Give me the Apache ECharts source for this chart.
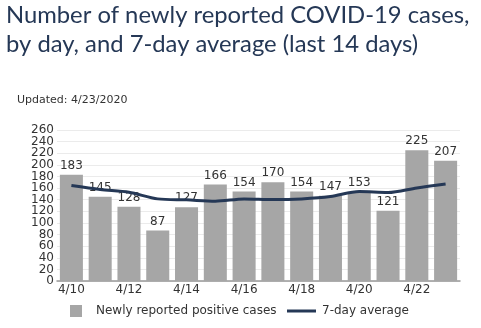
<!DOCTYPE html>
<html><head><meta charset="utf-8">
<script src="https://cdn.jsdelivr.net/npm/echarts@6/dist/echarts.min.js"></script>
<style>html,body{margin:0;padding:0;background:#fff}#c{width:481px;height:328px}</style>
</head><body><div id="c"></div>
<script>
const categories = ['4/10','4/11','4/12','4/13','4/14','4/15','4/16','4/17','4/18','4/19','4/20','4/21','4/22','4/23'];
const newCases = [183,145,128,87,127,166,154,170,154,147,153,121,225,207];
const avg7 = [164.3,157.5,152.8,141.4,139.7,137.5,141.4,140.2,141.4,145.4,154,152.3,160.3,167.2];
const yTicksA = [0,40,80,120,160,200,240];
const yTicksB = [20,60,100,140,180,220,260];

const chart = echarts.init(document.getElementById('c'));
const lab = {fontFamily:'DejaVu Sans', fontSize:12, color:'#333'};
function yAx(vals, split){
  return {type:'value', min:0, max:260, interval:20, position:'left',
    axisLine:{show:false}, axisTick:{show:false},
    splitLine:{show:split, lineStyle:{color:'#ebebeb'}},
    axisLabel:Object.assign({margin:3, customValues:vals, showMinLabel:true, showMaxLabel:true}, lab)};
}
chart.setOption({
  animation:false,
  title:[
    {text:'Number of newly reported COVID-19 cases,\nby day, and 7-day average (last 14 days)', left:6, top:1, padding:0,
     textStyle:{fontFamily:'Lato', fontSize:23.8, fontWeight:'normal', color:'#253856', lineHeight:29}},
    {text:'Updated: 4/23/2020', left:17, top:95, padding:0, textStyle:{fontFamily:'DejaVu Sans', fontSize:11, fontWeight:'normal', color:'#333'}}
  ],
  legend:[
    {left:70, top:305, padding:0, itemGap:0, itemWidth:12, itemHeight:12, textStyle:Object.assign({padding:[0,0,0,9]}, lab),
     data:[{name:'Newly reported positive cases', icon:'rect', itemStyle:{color:'#a6a6a6'}}]},
    {left:287, top:305, padding:0, itemGap:0, itemWidth:29, itemHeight:3, textStyle:Object.assign({padding:[0,0,0,1]}, lab),
     data:[{name:'7-day average', icon:'rect', itemStyle:{color:'#253856'}}]}
  ],
  grid:{left:57, right:21, top:130, bottom:47},
  xAxis:{type:'category', data:categories,
    axisLine:{lineStyle:{color:'#999', width:1.5}}, axisTick:{show:false},
    axisLabel:Object.assign({interval:1, margin:3}, lab)},
  yAxis:[yAx(yTicksA, true), yAx(yTicksB, false)],
  series:[
    {name:'Newly reported positive cases', type:'bar', data:newCases, barCategoryGap:'20%',
     itemStyle:{color:'#a6a6a6'}, label:Object.assign({show:true, position:'top', distance:3}, lab)},
    {name:'7-day average', type:'line', data:avg7, smooth:0.3, symbol:'none',
     lineStyle:{color:'#253856', width:3}, itemStyle:{color:'#253856'}}
  ]
});
</script></body></html>
